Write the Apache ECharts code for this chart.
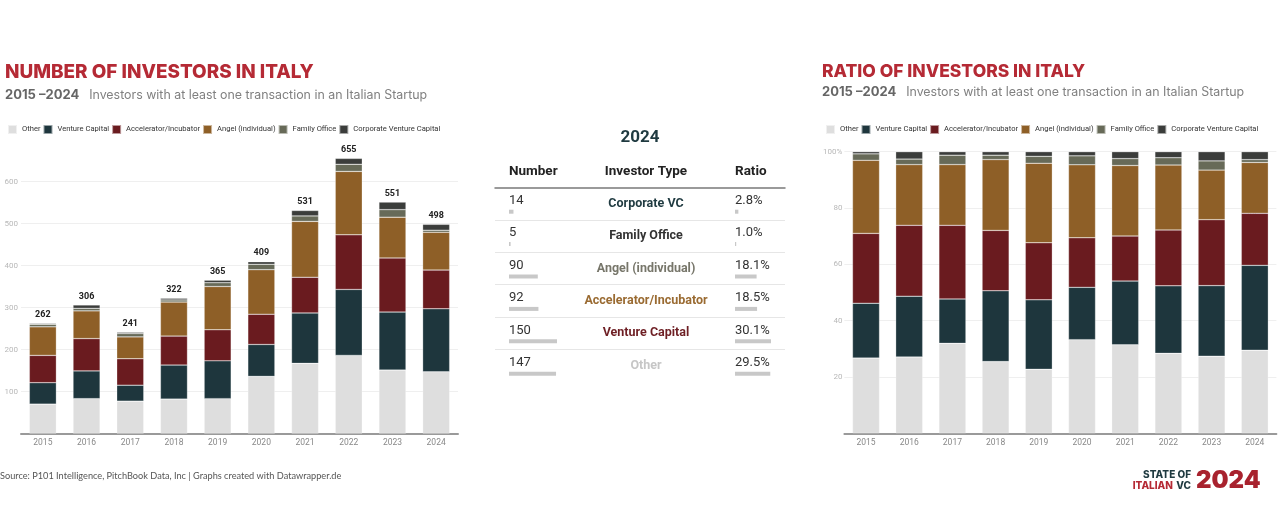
<!DOCTYPE html>
<html>
<head>
<meta charset="utf-8">
<script src="https://cdn.jsdelivr.net/npm/echarts@6/dist/echarts.min.js"></script>
<style>
html, body { margin: 0; padding: 0; background: #fff; }
#chart { width: 1280px; height: 524px; }
</style>
</head>
<body>
<div id="chart"></div>
<script>
// investors per year and type
const years = ['2015', '2016', '2017', '2018', '2019', '2020', '2021', '2022', '2023', '2024']
const other = [70, 83, 77, 82, 83, 136, 167, 186, 151, 147]
const ventureCapital = [51, 66, 38, 81, 90, 76, 120, 157, 138, 150]
const accelerator = [65, 77, 63, 69, 74, 72, 85, 130, 129, 92]
const angel = [68, 66, 52, 81, 103, 106, 133, 151, 97, 90]
const familyOffice = [6, 6, 8, 5, 9, 13, 13, 17, 18, 5]
const corporateVC = [2, 8, 3, 4, 6, 6, 13, 14, 18, 14]

const seriesNames = ['Other', 'Venture Capital', 'Accelerator/Incubator', 'Angel (individual)', 'Family Office', 'Corporate Venture Capital']
const seriesData = [other, ventureCapital, accelerator, angel, familyOffice, corporateVC]

// 2024 table rows, top to bottom
const tableTypes = ['Corporate VC', 'Family Office', 'Angel (individual)', 'Accelerator/Incubator', 'Venture Capital', 'Other']
const last = years.length - 1
const tableNumbers = [corporateVC[last], familyOffice[last], angel[last], accelerator[last], ventureCapital[last], other[last]]

const colors = ['#dedede', '#1e363d', '#6a1b1f', '#8e5f27', '#676a58', '#3b3d3b']
const tableColors = ['#1f3a40', '#333333', '#77766a', '#9a6b32', '#6e1f24', '#c6c6c6']

const totals = years.map((y, i) => seriesData.reduce((s, arr) => s + arr[i], 0))
const shares = seriesData.map(arr => arr.map((v, i) => (v / totals[i]) * 100))
const total2024 = totals[last]
const tableRatios = tableNumbers.map(v => (v / total2024) * 100)

const font = 'Roboto, "Noto Sans", sans-serif'
const titleFont = 'Inter, "Open Sans", sans-serif'

const chart = echarts.init(document.getElementById('chart'))

function stackSeries(idx, stack, values, withTotals) {
    return values.map((data, k) => {
        const s = {
            type: 'bar',
            name: seriesNames[k],
            stack: stack,
            xAxisIndex: idx,
            yAxisIndex: idx,
            barWidth: 27,
            data: data,
            itemStyle: {
                color: colors[k],
                borderColor: 'rgba(255,255,255,0.55)',
                borderWidth: 0.5,
            },
        }
        if (withTotals && k === values.length - 1) {
            s.label = {
                show: true,
                position: 'top',
                distance: 4,
                formatter: p => totals[p.dataIndex],
                fontFamily: font,
                fontWeight: 'bold',
                fontSize: 9,
                color: '#222',
            }
        }
        return s
    })
}

const legendBase = {
    data: seriesNames,
    top: 124,
    padding: 0,
    width: 470,
    icon: 'rect',
    itemWidth: 9,
    itemHeight: 9,
    itemGap: 2,
    selectedMode: false,
    textStyle: { fontFamily: font, fontSize: 7.6, color: '#333' },
}

const yearAxis = {
    type: 'category',
    data: years,
    axisLine: { lineStyle: { color: '#9a9a9a', width: 2 } },
    axisTick: { show: false },
    axisLabel: { fontFamily: font, fontSize: 8.5, color: '#888', margin: 5 },
}

const subtitleRich = {
    b: { fontFamily: titleFont, fontWeight: 'bold', fontSize: 13, color: '#666' },
    r: { fontFamily: titleFont, fontWeight: 'normal', fontSize: 12.4, color: '#808080' },
}

// rich styles for the centred investor-type labels
const typeRich = {}
tableColors.forEach((c, i) => {
    typeRich['r' + i] = { width: 220, align: 'center', color: c, fontFamily: font, fontWeight: 'bold', fontSize: 12.5 }
})

chart.setOption({
    animation: false,
    title: [
        {
            text: 'NUMBER OF INVESTORS IN ITALY',
            left: 0,
            top: 58,
            textStyle: { fontFamily: titleFont, fontWeight: 800, fontSize: 18.9, color: '#b52a35' },
        },
        {
            text: '{b|2015 –2024}  {r|Investors with at least one transaction in an Italian Startup}',
            left: 0,
            top: 81,
            textStyle: { rich: subtitleRich },
        },
        {
            text: 'RATIO OF INVESTORS IN ITALY',
            left: 817,
            top: 58,
            textStyle: { fontFamily: titleFont, fontWeight: 800, fontSize: 17.5, color: '#b52a35' },
        },
        {
            text: '{b|2015 –2024}  {r|Investors with at least one transaction in an Italian Startup}',
            left: 817,
            top: 78,
            textStyle: { rich: subtitleRich },
        },
    ],
    legend: [
        Object.assign({}, legendBase, { left: 7 }),
        Object.assign({}, legendBase, { left: 825 }),
    ],
    grid: [
        { left: 21, width: 437, top: 139.5, height: 294 },
        { left: 844.4, width: 432, top: 151.7, height: 281.6 },
        { left: 495, width: 290, top: 187.5, height: 194.4 },
        { left: 509, width: 48, top: 195.5, height: 194.4 },
        { left: 735, width: 36, top: 195.5, height: 194.4 },
    ],
    xAxis: [
        Object.assign({ gridIndex: 0 }, yearAxis),
        Object.assign({ gridIndex: 1 }, yearAxis),
        {
            gridIndex: 2, type: 'value', position: 'top', min: 0, max: 1,
            axisLine: { show: true, lineStyle: { color: '#7a7a7a', width: 1.5 } },
            axisTick: { show: false }, axisLabel: { show: false }, splitLine: { show: false },
        },
        { gridIndex: 3, type: 'value', min: 0, max: 150, show: false },
        { gridIndex: 4, type: 'value', min: 0, max: Math.max(...tableRatios), show: false },
    ],
    yAxis: [
        {
            gridIndex: 0, type: 'value', min: 0, max: 700, interval: 100,
            axisLine: { show: false }, axisTick: { show: false },
            axisLabel: {
                fontFamily: font, fontSize: 8, color: '#b8b8b8', margin: 3, showMaxLabel: false,
                formatter: v => (v === 0 ? '' : v),
            },
            splitLine: { showMaxLine: false, lineStyle: { color: '#efefef' } },
        },
        {
            gridIndex: 1, type: 'value', min: 0, max: 100, interval: 20,
            axisLine: { show: false }, axisTick: { show: false },
            axisLabel: {
                fontFamily: font, fontSize: 8, color: '#b8b8b8', margin: 2,
                formatter: v => (v === 0 ? '' : v === 100 ? '100%' : v),
            },
            splitLine: { lineStyle: { color: '#efefef' } },
        },
        {
            gridIndex: 2, type: 'category', inverse: true,
            data: tableTypes,
            axisLine: { show: false }, axisTick: { show: false },
            axisLabel: {
                margin: -261,
                formatter: (v, i) => '{r' + i + '|' + v + '}',
                rich: typeRich,
            },
            splitLine: { show: true, showMinLine: false, showMaxLine: false, lineStyle: { color: '#e6e6e6' } },
        },
        { gridIndex: 3, type: 'category', inverse: true, data: tableTypes, show: false },
        { gridIndex: 4, type: 'category', inverse: true, data: tableTypes, show: false },
    ],
    graphic: [
        { type: 'text', x: 640, y: 138, style: { text: '2024', fontFamily: font, fontWeight: 'bold', fontSize: 17, fill: '#1f3a40', align: 'center', verticalAlign: 'middle' } },
        { type: 'text', x: 509, y: 172, style: { text: 'Number', fontFamily: font, fontWeight: 'bold', fontSize: 13.5, fill: '#222', verticalAlign: 'middle' } },
        { type: 'text', x: 646, y: 172, style: { text: 'Investor Type', fontFamily: font, fontWeight: 'bold', fontSize: 13.5, fill: '#222', align: 'center', verticalAlign: 'middle' } },
        { type: 'text', x: 735, y: 172, style: { text: 'Ratio', fontFamily: font, fontWeight: 'bold', fontSize: 13.5, fill: '#222', verticalAlign: 'middle' } },
        { type: 'text', x: 0, y: 476, style: { text: 'Source: P101 Intelligence, PitchBook Data, Inc | Graphs created with Datawrapper.de', fontFamily: 'Lato, sans-serif', fontSize: 9.2, fill: '#555', verticalAlign: 'middle' } },
        { type: 'text', x: 1191, y: 475, style: { text: 'STATE OF', fontFamily: titleFont, fontWeight: 800, fontSize: 10, fill: '#1f3a40', align: 'right', verticalAlign: 'middle' } },
        { type: 'text', x: 1191, y: 486, style: { text: '{a|ITALIAN} {b|VC}', align: 'right', verticalAlign: 'middle', rich: { a: { fontFamily: titleFont, fontWeight: 800, fontSize: 10, fill: '#b52a35' }, b: { fontFamily: titleFont, fontWeight: 800, fontSize: 10, fill: '#1f3a40' } } } },
        { type: 'text', x: 1196, y: 481, style: { text: '2024', fontFamily: titleFont, fontWeight: 900, fontSize: 24, fill: '#a8222e', verticalAlign: 'middle' } },
        { type: 'text', x: 1252, y: 199, style: { text: '▼', fontFamily: font, fontSize: 6, fill: '#b03030', align: 'center', verticalAlign: 'middle' } },
        { type: 'text', x: 1252, y: 208, style: { text: '23%', fontFamily: font, fontSize: 7, fill: 'rgba(176,48,48,0.55)', align: 'center', verticalAlign: 'middle' } },
        { type: 'text', x: 1252, y: 216, style: { text: 'YoY', fontFamily: font, fontSize: 5, fill: 'rgba(140,140,140,0.5)', align: 'center', verticalAlign: 'middle' } },
    ],
    series: [
        ...stackSeries(0, 'count', seriesData, true),
        ...stackSeries(1, 'share', shares, false),
        {
            type: 'bar', xAxisIndex: 3, yAxisIndex: 3, barWidth: 4,
            data: tableNumbers,
            itemStyle: { color: '#c8c8c8' },
            label: {
                show: true, position: [0, -9], align: 'left', verticalAlign: 'middle',
                fontFamily: font, fontSize: 13, color: '#333',
            },
        },
        {
            type: 'bar', xAxisIndex: 4, yAxisIndex: 4, barWidth: 4,
            data: tableRatios,
            itemStyle: { color: '#c8c8c8' },
            label: {
                show: true, position: [0, -9], align: 'left', verticalAlign: 'middle',
                fontFamily: font, fontSize: 13, color: '#333',
                formatter: p => p.value.toFixed(1) + '%',
            },
        },
    ],
})
</script>
</body>
</html>
